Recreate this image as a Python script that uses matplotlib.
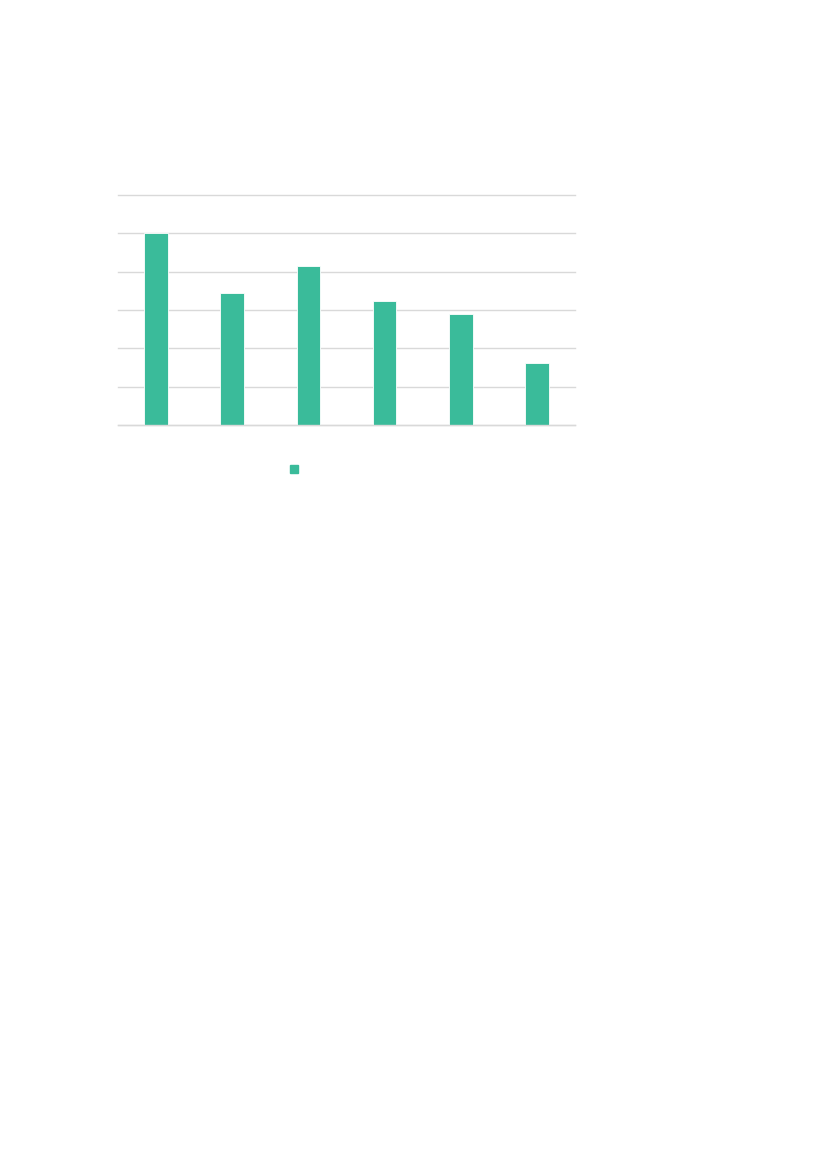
import matplotlib
matplotlib.use("Agg")
import matplotlib.pyplot as plt
from matplotlib.patches import Rectangle

categories = ['A', 'B', 'C', 'D', 'E', 'F']
values = [5.0, 3.45, 4.15, 3.23, 2.9, 1.63]
y_ticks = [0, 1, 2, 3, 4, 5, 6]

bar_color = '#3abb9a'
grid_color = '#d9d9d9'

fig = plt.figure(figsize=(8.27, 11.69), dpi=100)
ax = fig.add_axes([0.1427, 0.6364, 0.5526, 0.1968])

x = list(range(len(categories)))
ax.bar(x, values, width=0.31, color=bar_color, edgecolor='white', linewidth=0.6, zorder=3)

ax.set_xlim(-0.5, len(categories) - 0.5)
ax.set_ylim(0, 6)
ax.set_yticks(y_ticks)
ax.grid(axis='y', color=grid_color, linewidth=1, zorder=0)
for gl in ax.get_ygridlines():
    gl.set_clip_on(False)
ax.axhline(0, color=grid_color, linewidth=1, zorder=4, clip_on=False)
ax.tick_params(left=False, bottom=False, labelleft=False, labelbottom=False)
for s in ax.spines.values():
    s.set_visible(False)

# legend with only the colour key visible
handle = Rectangle((0, 0), 1, 1, color=bar_color)
fig.legend([handle], [' '], loc='center', bbox_to_anchor=(0.363, 0.598),
           frameon=False, handlelength=0.7, handleheight=0.7, fontsize=8)

fig.savefig('out.png', dpi=100, facecolor='white')
